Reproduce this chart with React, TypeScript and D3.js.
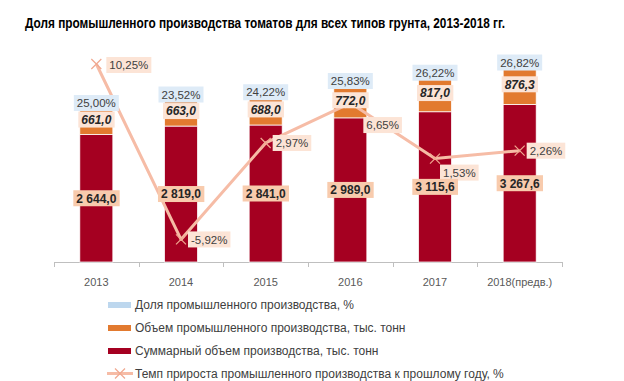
import React, { useEffect, useRef } from 'react';
import * as d3 from 'd3';

const years = ['2013', '2014', '2015', '2016', '2017', '2018(предв.)'];
const totalVolume = [2644.0, 2819.0, 2841.0, 2989.0, 3115.6, 3267.6];
const industrialVolume = [661.0, 663.0, 688.0, 772.0, 817.0, 876.3];
const industrialShare = [25.0, 23.52, 24.22, 25.83, 26.22, 26.82];
const growthRate = [10.25, -5.92, 2.97, 6.65, 1.53, 2.26];

const seriesNames = [
  'Доля промышленного производства, %',
  'Объем промышленного производства, тыс. тонн',
  'Суммарный объем производства, тыс. тонн',
  'Темп прироста промышленного производства к прошлому году, %',
];
const title = 'Доля промышленного производства томатов для всех типов грунта, 2013-2018 гг.';

const W = 624;
const H = 381;
const FONT = '"Liberation Sans", Arial, sans-serif';
const C_RED = '#a50021';
const C_ORANGE = '#e27a2f';
const C_BLUE = '#bdd7ee';
const C_LINE = '#f6bca6';

export default function App() {
  const ref = useRef<SVGSVGElement | null>(null);

  useEffect(() => {
    const svg = d3.select(ref.current as SVGSVGElement);
    svg.selectAll('*').remove();

    const loc = d3.formatLocale({
      decimal: ',',
      thousands: ' ',
      grouping: [3],
      currency: ['', ''],
      minus: '-',
    } as any);
    const fVol = loc.format(',.1f');
    const fPct = (v: number) => loc.format('.2f')(v) + '%';

    const plotLeft = 54;
    const plotRight = 562;
    const baseY = 262;
    const topY = 45;

    const x = d3.scaleBand<string>().domain(years).range([plotLeft, plotRight]).padding(0);
    const barW = x.bandwidth() * 0.39;
    const y = d3.scaleLinear().domain([0, 4500]).range([baseY, topY]);
    const y2 = d3.scaleLinear().domain([-8, 12]).range([baseY, topY]);

    const rows = years.map((yr, i) => ({
      year: yr,
      total: totalVolume[i],
      industrial: industrialVolume[i],
      share: industrialShare[i],
    }));
    const keys = ['total', 'industrial', 'share'];
    const colors: Record<string, string> = { total: C_RED, industrial: C_ORANGE, share: C_BLUE };
    const stacked = d3.stack<any>().keys(keys)(rows);

    // title
    svg
      .append('text')
      .attr('x', 25)
      .attr('y', 28)
      .attr('font-family', FONT)
      .attr('font-size', 14)
      .attr('font-weight', 'bold')
      .attr('fill', '#000')
      .attr('textLength', 480)
      .attr('lengthAdjust', 'spacingAndGlyphs')
      .text(title);

    // axis
    const axisG = svg.append('g');
    axisG
      .append('line')
      .attr('x1', plotLeft)
      .attr('x2', plotRight)
      .attr('y1', baseY + 0.5)
      .attr('y2', baseY + 0.5)
      .attr('stroke', '#bfbfbf')
      .attr('stroke-width', 1);
    const tickXs = years.map((yr) => x(yr) as number).concat([plotRight]);
    tickXs.forEach((tx) => {
      axisG
        .append('line')
        .attr('x1', Math.round(tx) + 0.5)
        .attr('x2', Math.round(tx) + 0.5)
        .attr('y1', baseY)
        .attr('y2', baseY + 5)
        .attr('stroke', '#bfbfbf');
    });
    years.forEach((yr) => {
      axisG
        .append('text')
        .attr('x', (x(yr) as number) + x.bandwidth() / 2)
        .attr('y', 282)
        .attr('dy', '0.35em')
        .attr('text-anchor', 'middle')
        .attr('font-family', FONT)
        .attr('font-size', 11)
        .attr('fill', '#595959')
        .text(yr);
    });

    // bars
    const barsG = svg.append('g');
    stacked.forEach((s) => {
      barsG
        .selectAll(null)
        .data(s)
        .enter()
        .append('rect')
        .attr('x', (d: any) => (x(d.data.year) as number) + (x.bandwidth() - barW) / 2)
        .attr('y', (d: any) => y(d[1]))
        .attr('width', barW)
        .attr('height', (d: any) => y(d[0]) - y(d[1]))
        .attr('fill', colors[s.key])
        .attr('stroke', '#fff')
        .attr('stroke-width', s.key === 'share' ? 0 : 0.75);
    });

    // line
    const cx = (i: number) => (x(years[i]) as number) + x.bandwidth() / 2;
    const line = d3
      .line<number>()
      .x((_, i) => cx(i))
      .y((d) => y2(d));
    svg
      .append('path')
      .attr('d', line(growthRate) as string)
      .attr('fill', 'none')
      .attr('stroke', C_LINE)
      .attr('stroke-width', 3)
      .attr('stroke-linejoin', 'round');
    const markG = svg.append('g');
    growthRate.forEach((v, i) => {
      const px = cx(i);
      const py = y2(v);
      const m = 5;
      markG
        .append('path')
        .attr('d', `M${px - m},${py - m}L${px + m},${py + m}M${px - m},${py + m}L${px + m},${py - m}`)
        .attr('stroke', '#f0a890')
        .attr('stroke-width', 1.2)
        .attr('fill', 'none');
    });

    // labels
    const labelsG = svg.append('g');
    const addLabel = (
      lx: number,
      ly: number,
      text: string,
      o: { anchor: string; bg: string; weight?: string; style?: string; size: number; fill: string }
    ) => {
      const g = labelsG.append('g');
      const t = g
        .append('text')
        .attr('x', lx)
        .attr('y', ly)
        .attr('dy', '0.36em')
        .attr('text-anchor', o.anchor)
        .attr('font-family', FONT)
        .attr('font-size', o.size)
        .attr('font-weight', o.weight || 'normal')
        .attr('font-style', o.style || 'normal')
        .attr('fill', o.fill)
        .text(text);
      const bb = (t.node() as SVGTextElement).getBBox();
      g.insert('rect', 'text')
        .attr('x', bb.x - 3)
        .attr('y', ly - 8)
        .attr('width', bb.width + 6)
        .attr('height', 16)
        .attr('fill', o.bg);
    };

    // growth labels (drawn first so bar labels sit on top)
    const lineLabelShift: Record<number, [number, number]> = { 3: [13, 22], 4: [5, 14], 0: [10, 1] };
    growthRate.forEach((v, i) => {
      const [dx, dy] = lineLabelShift[i] || [7, 0];
      addLabel(cx(i) + dx + 3, y2(v) + dy, fPct(v), {
        anchor: 'start',
        bg: '#fce4d6',
        size: 11.5,
        fill: '#404040',
      });
    });

    stacked.forEach((s) => {
      s.forEach((d: any, i: number) => {
        const mid = (y(d[0]) + y(d[1])) / 2;
        if (s.key === 'total') {
          addLabel(cx(i), mid, fVol(totalVolume[i]), {
            anchor: 'middle',
            bg: '#f8cbad',
            weight: 'bold',
            size: 12,
            fill: '#262626',
          });
        } else if (s.key === 'industrial') {
          addLabel(cx(i), mid + 1, fVol(industrialVolume[i]), {
            anchor: 'middle',
            bg: '#fce4d6',
            weight: 'bold',
            style: 'italic',
            size: 12,
            fill: '#262626',
          });
        } else {
          addLabel(cx(i), mid + 1, fPct(industrialShare[i]), {
            anchor: 'middle',
            bg: '#deebf7',
            size: 11.5,
            fill: '#404040',
          });
        }
      });
    });

    // legend
    const legG = svg.append('g');
    const legY = [305, 328, 351, 373.5];
    const legColors = [C_BLUE, C_ORANGE, C_RED];
    seriesNames.forEach((name, i) => {
      const ly = legY[i];
      if (i < 3) {
        legG
          .append('rect')
          .attr('x', 108)
          .attr('y', ly - 3)
          .attr('width', 23)
          .attr('height', 6)
          .attr('fill', legColors[i]);
      } else {
        legG
          .append('line')
          .attr('x1', 107)
          .attr('x2', 133)
          .attr('y1', ly)
          .attr('y2', ly)
          .attr('stroke', C_LINE)
          .attr('stroke-width', 3);
        legG
          .append('path')
          .attr('d', `M115,${ly - 5}L125,${ly + 5}M115,${ly + 5}L125,${ly - 5}`)
          .attr('stroke', '#f0a890')
          .attr('stroke-width', 1.2);
      }
      legG
        .append('text')
        .attr('x', 135)
        .attr('y', ly)
        .attr('dy', '0.35em')
        .attr('font-family', FONT)
        .attr('font-size', 12)
        .attr('fill', '#404040')
        .text(name);
    });
  }, []);

  return (
    <svg
      ref={ref}
      width={W}
      height={H}
      style={{ position: 'absolute', left: 0, top: 0, background: '#fff' }}
    />
  );
}
